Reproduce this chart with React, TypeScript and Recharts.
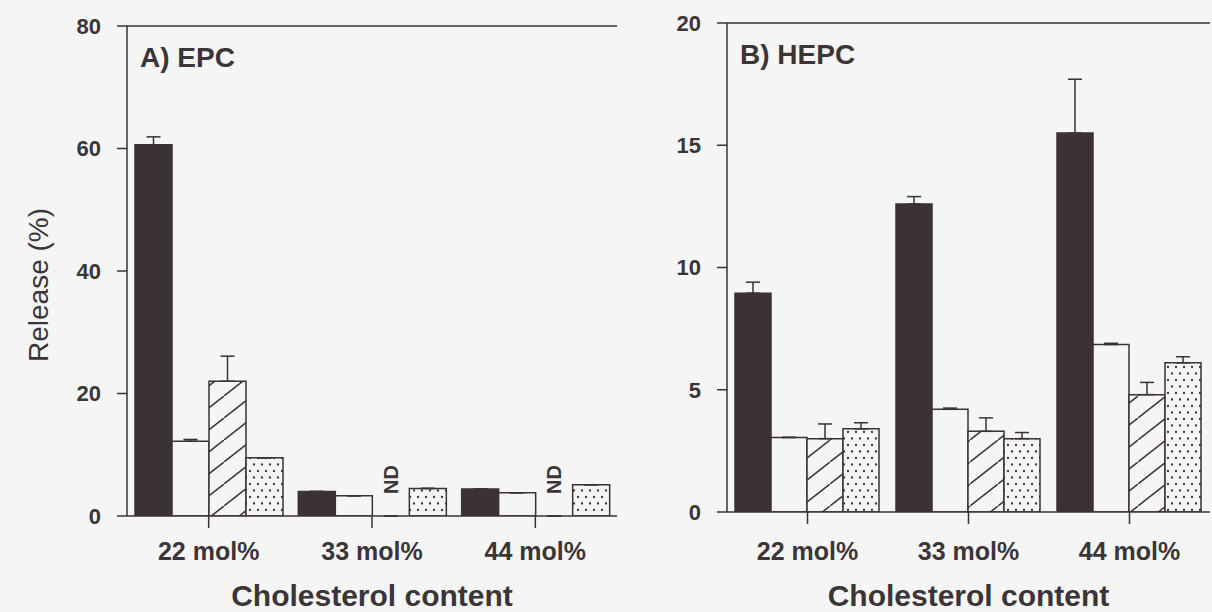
import React from 'react';
import {
  BarChart,
  Bar,
  XAxis,
  YAxis,
  ErrorBar,
  ReferenceLine,
  Rectangle,
  Label,
} from 'recharts';

// Cholesterol content of the vesicles (x categories)
const categories = ['22 mol%', '33 mol%', '44 mol%'];

// Panel A – EPC vesicles, release (%)
const epcSolid = [60.6, 4.0, 4.4];
const epcSolidErr = [1.3, 0, 0];
const epcOpen = [12.2, 3.3, 3.8];
const epcOpenErr = [0.3, 0, 0];
const epcHatched = [22.0, 0, 0];
const epcHatchedErr = [4.1, 0, 0];
const epcDotted = [9.5, 4.5, 5.1];
const epcDottedErr = [0, 0, 0];
const epcNotDetermined = [false, true, true];

// Panel B – HEPC vesicles, release (%)
const hepcSolid = [8.95, 12.6, 15.5];
const hepcSolidErr = [0.45, 0.3, 2.2];
const hepcOpen = [3.05, 4.2, 6.85];
const hepcOpenErr = [0, 0.05, 0.05];
const hepcHatched = [3.0, 3.3, 4.8];
const hepcHatchedErr = [0.6, 0.55, 0.5];
const hepcDotted = [3.4, 3.0, 6.1];
const hepcDottedErr = [0.25, 0.25, 0.25];
const hepcNotDetermined = [false, false, false];

const epcTicks = [0, 20, 40, 60, 80];
const hepcTicks = [0, 5, 10, 15, 20];

const INK = '#3a3236';
const TEXT = '#3b3538';
const PAPER = '#f6f5f6';
const FONT = '"Liberation Sans", Arial, Helvetica, sans-serif';

function buildRows(
  solid: number[], solidErr: number[],
  open: number[], openErr: number[],
  hatched: number[], hatchedErr: number[],
  dotted: number[], dottedErr: number[],
  nd: boolean[],
) {
  return categories.map((category, i) => ({
    category,
    solid: solid[i],
    solidErr: [0, solidErr[i]],
    open: open[i],
    openErr: [0, openErr[i]],
    hatched: hatched[i],
    hatchedErr: [0, hatchedErr[i]],
    dotted: dotted[i],
    dottedErr: [0, dottedErr[i]],
    nd: nd[i],
  }));
}

const epcRows = buildRows(
  epcSolid, epcSolidErr, epcOpen, epcOpenErr,
  epcHatched, epcHatchedErr, epcDotted, epcDottedErr, epcNotDetermined,
);
const hepcRows = buildRows(
  hepcSolid, hepcSolidErr, hepcOpen, hepcOpenErr,
  hepcHatched, hepcHatchedErr, hepcDotted, hepcDottedErr, hepcNotDetermined,
);

function Patterns({ id }: { id: string }) {
  const w = 28;
  const h = 22;
  return (
    <defs>
      <pattern id={`hatch-${id}`} patternUnits="userSpaceOnUse" width={w} height={h}>
        <rect x={0} y={0} width={w} height={h} fill={PAPER} />
        <path d={`M${-w},${2 * h} L${2 * w},${-h}`} stroke={INK} strokeWidth={1.5} />
      </pattern>
      <pattern id={`dots-${id}`} patternUnits="userSpaceOnUse" width={8} height={13}>
        <rect x={0} y={0} width={8} height={13} fill={PAPER} />
        <circle cx={2} cy={3} r={1.15} fill={INK} />
        <circle cx={6} cy={9.5} r={1.15} fill={INK} />
      </pattern>
    </defs>
  );
}

// Hatched bar; categories without a measurement get a vertical "ND" note instead
function hatchedShape(props: any) {
  const { x, y, width, height, payload, fill } = props;
  if (payload && payload.nd) {
    const cx = x + width / 2;
    const y0 = y - 22;
    return (
      <text
        x={cx}
        y={y0}
        transform={`rotate(-90 ${cx} ${y0})`}
        textAnchor="start"
        dominantBaseline="central"
        fontFamily={FONT}
        fontWeight={700}
        fontSize={20}
        fill={TEXT}
      >
        ND
      </text>
    );
  }
  return <Rectangle x={x} y={y} width={width} height={height} fill={fill} stroke={INK} strokeWidth={1.5} />;
}

const yTickStyle = { fontFamily: FONT, fontWeight: 700, fontSize: 22, fill: TEXT };
const xTickStyle = { fontFamily: FONT, fontWeight: 700, fontSize: 25, fill: TEXT };

interface PanelProps {
  id: string;
  title: string;
  rows: any[];
  ticks: number[];
  width: number;
  top: number;
  plotBottom: number;
  axisWidth: number;
  rightMargin: number;
  showYTitle: boolean;
}

function Panel({ id, title, rows, ticks, width, top, plotBottom, axisWidth, rightMargin, showYTitle }: PanelProps) {
  const max = ticks[ticks.length - 1];
  return (
    <BarChart
      width={width}
      height={612}
      data={rows}
      margin={{ top, right: rightMargin, left: 0, bottom: 0 }}
      barCategoryGap={8}
      barGap={0}
      style={{ fontFamily: FONT }}
    >
      <Patterns id={id} />
      <XAxis
        dataKey="category"
        height={612 - plotBottom}
        tickLine={{ stroke: INK, strokeWidth: 1.5 }}
        axisLine={{ stroke: INK, strokeWidth: 1.5 }}
        tickSize={12}
        tickMargin={542 - plotBottom - 12}
        tick={xTickStyle}
      >
        <Label
          value="Cholesterol content"
          position="insideBottom"
          offset={6}
          style={{ fontFamily: FONT, fontWeight: 700, fontSize: 30, fill: TEXT }}
        />
      </XAxis>
      <YAxis
        yAxisId="left"
        type="number"
        domain={[0, max]}
        ticks={ticks}
        width={axisWidth}
        tickLine={{ stroke: INK, strokeWidth: 1.5 }}
        axisLine={{ stroke: INK, strokeWidth: 1.5 }}
        tickSize={10}
        tickMargin={16}
        tick={yTickStyle}
        allowDataOverflow
      >
        {showYTitle && (
          <Label
            content={(p: any) => {
              const vb = p.viewBox || {};
              const cx = vb.x + 38;
              const cy = vb.y + vb.height / 2 + 14;
              return (
                <text
                  x={cx}
                  y={cy}
                  transform={`rotate(-90 ${cx} ${cy})`}
                  textAnchor="middle"
                  dominantBaseline="central"
                  fontFamily={FONT}
                  fontSize={28}
                  fill={TEXT}
                >
                  Release (%)
                </text>
              );
            }}
          />
        )}
      </YAxis>
      <YAxis
        yAxisId="frame"
        orientation="right"
        type="number"
        domain={[0, max]}
        width={0}
        tick={false}
        tickLine={false}
        axisLine={{ stroke: INK, strokeWidth: 1.5 }}
      />
      <ReferenceLine
        yAxisId="left"
        y={max}
        stroke={INK}
        strokeWidth={1.5}
        ifOverflow="visible"
        label={{
          value: title,
          position: 'insideTopLeft',
          offset: 13,
          dy: 8,
          style: { fontFamily: FONT, fontWeight: 700, fontSize: 28, fill: TEXT },
        }}
      />
      <Bar yAxisId="left" dataKey="solid" fill={INK} stroke={INK} strokeWidth={1.5} isAnimationActive={false}>
        <ErrorBar dataKey="solidErr" width={7} stroke={INK} strokeWidth={1.5} direction="y" />
      </Bar>
      <Bar yAxisId="left" dataKey="open" fill={PAPER} stroke={INK} strokeWidth={1.5} isAnimationActive={false}>
        <ErrorBar dataKey="openErr" width={7} stroke={INK} strokeWidth={1.5} direction="y" />
      </Bar>
      <Bar
        yAxisId="left"
        dataKey="hatched"
        fill={`url(#hatch-${id})`}
        stroke={INK}
        strokeWidth={1.5}
        shape={hatchedShape}
        isAnimationActive={false}
      >
        <ErrorBar dataKey="hatchedErr" width={7} stroke={INK} strokeWidth={1.5} direction="y" />
      </Bar>
      <Bar yAxisId="left" dataKey="dotted" fill={`url(#dots-${id})`} stroke={INK} strokeWidth={1.5} isAnimationActive={false}>
        <ErrorBar dataKey="dottedErr" width={7} stroke={INK} strokeWidth={1.5} direction="y" />
      </Bar>
    </BarChart>
  );
}

export default function App() {
  return (
    <div
      style={{
        position: 'absolute',
        left: 0,
        top: 0,
        width: 1212,
        height: 612,
        background: PAPER,
        overflow: 'hidden',
      }}
    >
      <div style={{ position: 'absolute', left: 0, top: 0 }}>
        <Panel
          id="a"
          title="A) EPC"
          rows={epcRows}
          ticks={epcTicks}
          width={620}
          top={26}
          plotBottom={516}
          axisWidth={127}
          rightMargin={3}
          showYTitle
        />
      </div>
      <div style={{ position: 'absolute', left: 606, top: 0 }}>
        <Panel
          id="b"
          title="B) HEPC"
          rows={hepcRows}
          ticks={hepcTicks}
          width={606}
          top={23}
          plotBottom={512}
          axisWidth={121}
          rightMargin={2}
          showYTitle={false}
        />
      </div>
    </div>
  );
}
